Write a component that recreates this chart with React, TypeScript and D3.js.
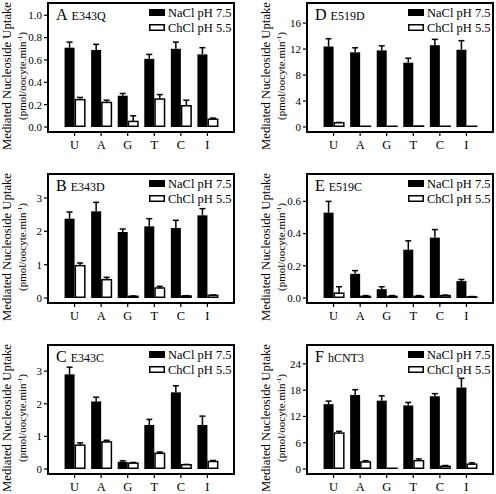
import React from "react";
import * as d3 from "d3";

const categories = ["U", "A", "G", "T", "C", "I"];
const panelLetters = ["A", "B", "C", "D", "E", "F"];
const panelNames = ["E343Q", "E343D", "E343C", "E519D", "E519C", "hCNT3"];
const legendLabels = ["NaCl pH 7.5", "ChCl pH 5.5"];

// per panel y ticks
const ticksA = [0, 0.2, 0.4, 0.6, 0.8, 1.0];
const ticksB = [0, 1, 2, 3];
const ticksC = [0, 1, 2, 3];
const ticksD = [0, 4, 8, 12, 16];
const ticksE = [0, 0.2, 0.4, 0.6];
const ticksF = [0, 6, 12, 18, 24];
const yMaxes = [1.11, 3.72, 3.8, 19.1, 0.77, 28.3];
const tickDecimals = [1, 0, 0, 0, 1, 0];

// values: NaCl pH 7.5 (black) and ChCl pH 5.5 (white), with upper error
const naclA = [0.71, 0.69, 0.28, 0.61, 0.70, 0.65];
const naclErrA = [0.05, 0.05, 0.02, 0.04, 0.06, 0.06];
const chclA = [0.245, 0.22, 0.05, 0.25, 0.19, 0.07];
const chclErrA = [0.02, 0.02, 0.05, 0.04, 0.05, 0.01];

const naclB = [2.38, 2.6, 1.98, 2.15, 2.1, 2.48];
const naclErrB = [0.2, 0.27, 0.09, 0.23, 0.23, 0.2];
const chclB = [0.97, 0.55, 0.05, 0.3, 0.06, 0.08];
const chclErrB = [0.08, 0.07, 0.01, 0.05, 0.01, 0.01];

const naclC = [2.9, 2.07, 0.22, 1.35, 2.35, 1.35];
const naclErrC = [0.22, 0.13, 0.03, 0.17, 0.2, 0.27];
const chclC = [0.73, 0.83, 0.18, 0.48, 0.13, 0.23];
const chclErrC = [0.07, 0.05, 0.02, 0.04, 0.01, 0.03];

const naclD = [12.4, 11.5, 11.8, 9.9, 12.6, 11.9];
const naclErrD = [1.2, 0.7, 0.7, 0.7, 0.9, 1.4];
const chclD = [0.65, 0.1, 0.1, 0.15, 0.1, 0.1];
const chclErrD = [0.05, 0, 0, 0, 0, 0];

const naclE = [0.53, 0.15, 0.055, 0.3, 0.375, 0.105];
const naclErrE = [0.07, 0.02, 0.015, 0.055, 0.05, 0.01];
const chclE = [0.03, 0.01, 0.01, 0.01, 0.015, 0.007];
const chclErrE = [0.04, 0.005, 0.005, 0.005, 0.003, 0.002];

const naclF = [14.8, 16.9, 15.6, 14.5, 16.6, 18.6];
const naclErrF = [0.7, 1.2, 1.1, 0.7, 0.6, 2.1];
const chclF = [8.2, 1.6, 0.1, 1.9, 0.6, 1.1];
const chclErrF = [0.4, 0.3, 0, 0.4, 0.2, 0.3];

const panelTicks = [ticksA, ticksB, ticksC, ticksD, ticksE, ticksF];
const panelNacl = [naclA, naclB, naclC, naclD, naclE, naclF];
const panelNaclErr = [naclErrA, naclErrB, naclErrC, naclErrD, naclErrE, naclErrF];
const panelChcl = [chclA, chclB, chclC, chclD, chclE, chclF];
const panelChclErr = [chclErrA, chclErrB, chclErrC, chclErrD, chclErrE, chclErrF];

const FONT = "Liberation Serif, Times New Roman, serif";
const FW = 186;
const FH = 129;
const ZERO = 124;
const colLefts = [48, 307];
const rowTops = [3, 174, 345];

function Panel({ idx }: { idx: number }) {
  const col = idx < 3 ? 0 : 1;
  const row = idx % 3;
  const left = colLefts[col];
  const top = rowTops[row];
  const right = left + FW;
  const bottom = top + FH;
  const y = d3.scaleLinear().domain([0, yMaxes[idx]]).range([top + ZERO, top]);
  const x = d3.scalePoint<string>().domain(categories).range([left, right]).padding(1);
  const fmt = d3.format(`.${tickDecimals[idx]}f`);
  const bw = 10;
  const cap = 3;
  const nacl = panelNacl[idx];
  const naclErr = panelNaclErr[idx];
  const chcl = panelChcl[idx];
  const chclErr = panelChclErr[idx];
  const y0 = y(0);
  const cy = top + 73;
  return (
    <g>
      {/* y title */}
      <text
        transform={`translate(${left - 37},${cy}) rotate(-90)`}
        textAnchor="middle"
        fontSize={12.7}
        fontFamily={FONT}
      >
        Mediated Nucleoside Uptake
      </text>
      <text
        transform={`translate(${left - 22},${cy}) rotate(-90)`}
        textAnchor="middle"
        fontSize={11}
        fontFamily={FONT}
      >
        (pmol/oocyte.min
        <tspan fontSize={7} dy={-4}>-1</tspan>
        <tspan dy={4}>)</tspan>
      </text>
      {/* bars */}
      {categories.map((c, i) => {
        const cx = x(c) as number;
        const yb = y(nacl[i]);
        const ybe = y(nacl[i] + naclErr[i]);
        const yw = y(chcl[i]);
        const ywe = y(chcl[i] + chclErr[i]);
        const cxb = cx - bw / 2;
        const cxw = cx + bw / 2 + 0.5;
        return (
          <g key={c}>
            <line x1={cxb} x2={cxb} y1={yb} y2={ybe} stroke="#000" strokeWidth={1.5} />
            <line x1={cxb - cap} x2={cxb + cap} y1={ybe} y2={ybe} stroke="#000" strokeWidth={1.5} />
            <rect x={cx - bw} y={yb} width={bw} height={y0 - yb} fill="#000" />
            {chclErr[i] > 0 && (
              <g>
                <line x1={cxw} x2={cxw} y1={yw} y2={ywe} stroke="#000" strokeWidth={1.5} />
                <line x1={cxw - cap} x2={cxw + cap} y1={ywe} y2={ywe} stroke="#000" strokeWidth={1.5} />
              </g>
            )}
            <rect
              x={cx + 0.75}
              y={Math.min(yw, y0 - 0.75)}
              width={bw - 0.5}
              height={Math.max(y0 - 0.75 - yw, 0.01)}
              fill="#fff"
              stroke="#000"
              strokeWidth={1.5}
            />
          </g>
        );
      })}
      {/* frame */}
      <rect x={left} y={top} width={FW} height={FH} fill="none" stroke="#000" strokeWidth={2} />
      {/* y ticks */}
      {panelTicks[idx].map((t) => (
        <g key={t}>
          <line x1={left - 4} x2={left} y1={y(t)} y2={y(t)} stroke="#000" strokeWidth={1.2} />
          <text
            x={left - 6}
            y={y(t)}
            dy="0.35em"
            textAnchor="end"
            fontSize={11}
            fontFamily={FONT}
          >
            {fmt(t)}
          </text>
        </g>
      ))}
      {/* x ticks */}
      {categories.map((c) => (
        <g key={c}>
          <line x1={x(c)} x2={x(c)} y1={bottom} y2={bottom + 4} stroke="#000" strokeWidth={1.2} />
          <text x={x(c)} y={bottom + 16.5} textAnchor="middle" fontSize={12.5} fontFamily={FONT}>
            {c}
          </text>
        </g>
      ))}
      {/* panel label */}
      <text x={left + 8} y={top + 17} fontFamily={FONT} fontSize={16}>
        {panelLetters[idx]}
        <tspan fontSize={12} dx={4}>{panelNames[idx]}</tspan>
      </text>
      {/* legend */}
      {legendLabels.map((l, k) => (
        <g key={l}>
          <rect
            x={right - 85 + (k === 1 ? 0.75 : 0)}
            y={top + 6 + k * 15 + (k === 1 ? 0.75 : 0)}
            width={k === 1 ? 14.5 : 16}
            height={k === 1 ? 5.5 : 7}
            fill={k === 0 ? "#000" : "#fff"}
            stroke={k === 1 ? "#000" : "none"}
            strokeWidth={1.5}
          />
          <text x={right - 66} y={top + 14 + k * 15} fontSize={12.5} fontFamily={FONT}>
            {l}
          </text>
        </g>
      ))}
    </g>
  );
}

export default function App() {
  return (
    <svg
      width={496}
      height={494}
      style={{ position: "absolute", left: 0, top: 0, background: "#fff" }}
    >
      <rect x={0} y={0} width={496} height={494} fill="#fff" />
      {[0, 1, 2, 3, 4, 5].map((i) => (
        <Panel key={i} idx={i} />
      ))}
    </svg>
  );
}
